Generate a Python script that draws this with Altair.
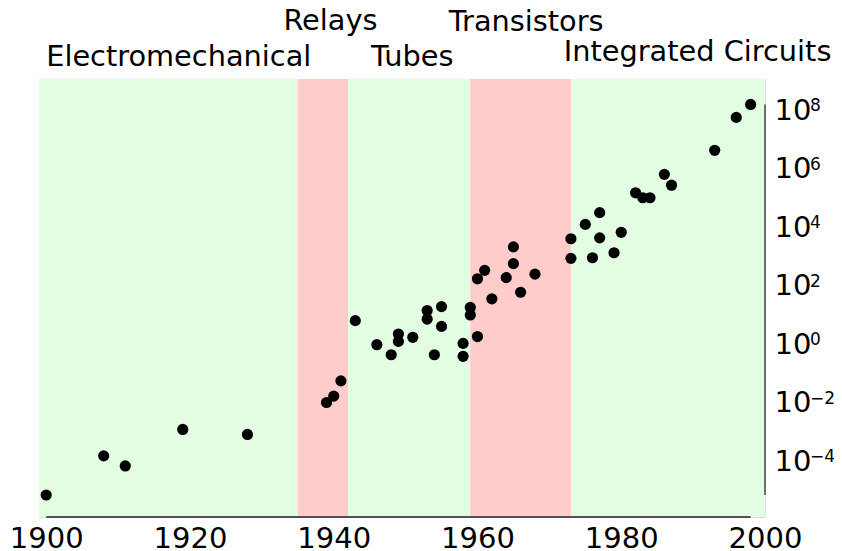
import altair as alt
import pandas as pd

# ---- data ----
years = [1900, 1908, 1911, 1919, 1928, 1939, 1940, 1941, 1943, 1946,
         1948, 1949, 1949, 1951, 1953, 1953, 1955, 1955, 1954, 1958,
         1958, 1959, 1959, 1960, 1960, 1961, 1962, 1964, 1965, 1965,
         1966, 1968, 1973, 1973, 1975, 1976, 1977, 1977, 1979, 1980,
         1982, 1983, 1984, 1986, 1987, 1993, 1996, 1998]
values = [6.9e-6, 1.5e-4, 6.8e-5, 1.2e-3, 8.1e-4, 0.010, 0.0166, 0.055, 6.3, 0.95,
          0.43, 2.2, 1.23, 1.7, 14, 7.1, 19, 4.0, 0.43, 1.05,
          0.38, 17.8, 9.8, 1.8, 170, 330, 35, 186, 2090, 560,
          59, 245, 3980, 850, 12300, 890, 31000, 4270, 1320, 6600,
          148000, 100000, 100000, 631000, 269000, 4.2e6, 5.6e7, 1.55e8]

band_start = [1899, 1935, 1942, 1959, 1973]
band_end = [1935, 1942, 1959, 1973, 2000]
band_kind = ["green", "red", "green", "red", "green"]

era_labels = ["Electromechanical", "Relays", "Tubes", "Transistors", "Integrated Circuits"]
era_label_year = [1900, 1933, 1945.2, 1956, 1972.0]

x_ticks = [1900, 1920, 1940, 1960, 1980, 2000]
y_exponents = [-4, -2, 0, 2, 4, 6, 8]
y_exponent_text = ["\u22124", "\u22122", "0", "2", "4", "6", "8"]

# ---- layout / styles ----
W, H = 726, 438
FONT = "DejaVu Sans"
TICK_FS = 29
label_row_px = {"Electromechanical": -13, "Relays": -49, "Tubes": -13,
                "Transistors": -48, "Integrated Circuits": -18}

pts = pd.DataFrame({"year": years, "value": values})
bands = pd.DataFrame({"start": band_start, "end": band_end, "kind": band_kind})
eras = pd.DataFrame({"label": era_labels, "year": era_label_year,
                     "py": [label_row_px[l] for l in era_labels]})
sups = pd.DataFrame({"value": [10.0 ** e for e in y_exponents], "sup": y_exponent_text})
spine_y = pd.DataFrame({"lo": [min(values)], "hi": [max(values)]})
spine_x = pd.DataFrame({"lo": [min(years)], "hi": [max(years)]})

xscale = alt.Scale(domain=[1899, 2000], nice=False, zero=False)
yscale = alt.Scale(type="log", domain=[1.22e-6, 1.15e9], nice=False)

xaxis = alt.Axis(values=x_ticks, format="d", title=None, ticks=False, domain=False,
                 grid=False, labelFont=FONT, labelFontSize=TICK_FS, labelColor="black",
                 labelPadding=7, labelFlush=False)
yaxis = alt.Axis(orient="right", values=[10.0 ** e for e in y_exponents],
                 labelExpr="'10'", title=None, ticks=False, domain=False,
                 grid=False, labelFont=FONT, labelFontSize=TICK_FS, labelColor="black",
                 labelPadding=9, labelAlign="left", labelBaseline="middle")

band_layer = alt.Chart(bands).mark_rect().encode(
    x=alt.X("start:Q", scale=xscale, axis=xaxis),
    x2="end:Q",
    y=alt.value(0),
    y2=alt.value(H),
    color=alt.Color("kind:N", scale=alt.Scale(domain=["green", "red"],
                                               range=["#e3fde3", "#ffcccc"]), legend=None),
)

point_layer = alt.Chart(pts).mark_circle(size=125, opacity=1, color="black").encode(
    x=alt.X("year:Q", scale=xscale, axis=xaxis),
    y=alt.Y("value:Q", scale=yscale, axis=yaxis),
)

sup_layer = alt.Chart(sups).mark_text(align="left", baseline="alphabetic", font=FONT,
                                      fontSize=17, color="black", dy=1).encode(
    x=alt.value(W + 45),
    y=alt.Y("value:Q", scale=yscale, axis=yaxis),
    text="sup:N",
)

yspine = alt.Chart(spine_y).mark_rule(color="#444", strokeWidth=1.5).encode(
    x=alt.value(W),
    y=alt.Y("lo:Q", scale=yscale, axis=yaxis),
    y2="hi:Q",
)

xspine = alt.Chart(spine_x).mark_rule(color="#222", strokeWidth=1.5).encode(
    x=alt.X("lo:Q", scale=xscale, axis=xaxis),
    x2="hi:Q",
    y=alt.value(H),
)

era_layer = alt.Chart(eras).mark_text(align="left", baseline="alphabetic", font=FONT,
                                      fontSize=28.8, color="black").encode(
    x=alt.X("year:Q", scale=xscale, axis=xaxis),
    y=alt.Y("py:Q", scale=None),
    text="label:N",
)

chart = alt.layer(band_layer, point_layer, sup_layer, yspine, xspine, era_layer).properties(
    width=W, height=H,
    autosize=alt.AutoSizeParams(type="none"),
    padding={"left": 31, "top": 71, "right": 69, "bottom": 34},
).configure_view(stroke=None).configure(background="white")

chart.save("out.html", embed_options={"renderer": "svg", "actions": False})
